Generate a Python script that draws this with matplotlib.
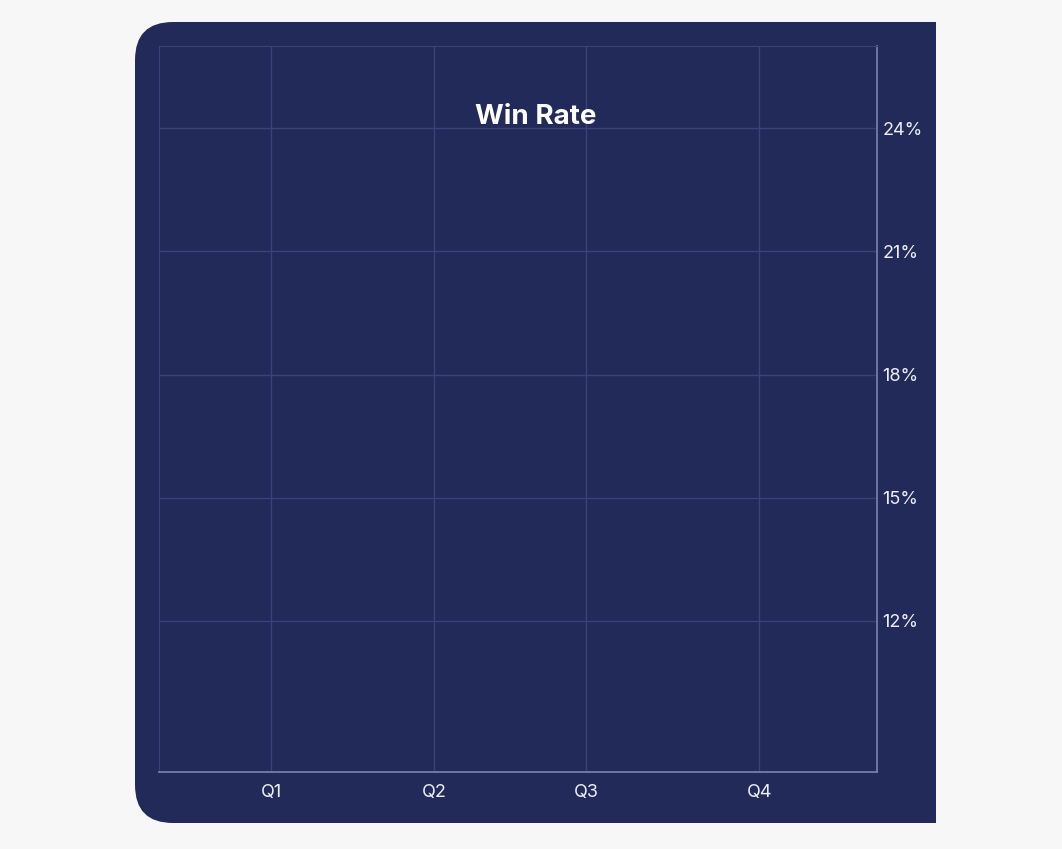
import matplotlib.pyplot as plt
from matplotlib.patches import FancyBboxPatch, Rectangle
from matplotlib.ticker import FuncFormatter

# data
quarters = ["Q1", "Q2", "Q3", "Q4"]
quarter_pos = [0.156, 0.383, 0.595, 0.836]
win_rate = []  # no points drawn in the reference
y_ticks = [12, 15, 18, 21, 24]

page_bg = "#f7f7f7"
panel_bg = "#222a5a"
grid_col = "#39427a"
spine_col = "#7d85ad"
text_col = "#eceef6"

W, H = 1062, 849
fig = plt.figure(figsize=(W / 100, H / 100), dpi=100)
fig.patch.set_facecolor(page_bg)
plt.rcParams['font.family'] = ['Inter', 'DejaVu Sans']

# panel with rounded left corners only
def fx(px):
    return px / W

def fy(py):
    return 1 - py / H

r = 38
panel = FancyBboxPatch((fx(135 + r), fy(823 - r)), fx(936 - 135 - 2 * r), (801 - 2 * r) / H,
                       boxstyle=f"round,pad={r / W}", transform=fig.transFigure,
                       facecolor=panel_bg, edgecolor="none", zorder=0,
                       mutation_aspect=W / H)
fig.patches.append(panel)
fig.patches.append(Rectangle((fx(880), fy(823)), fx(936 - 880), 801 / H,
                             transform=fig.transFigure, facecolor=panel_bg,
                             edgecolor="none", zorder=0))

ax = fig.add_axes([fx(159), fy(772), fx(877 - 159), (772 - 46) / H])
ax.set_zorder(2)
ax.set_facecolor("none")
ax.plot(quarter_pos[:len(win_rate)], win_rate, color="#6fa8ff")

ax.set_xlim(0, 1)
ax.set_ylim(8.32, 26.0)
ax.set_xticks(quarter_pos)
ax.set_xticklabels(quarters)
ax.set_yticks(y_ticks)
ax.yaxis.set_major_formatter(FuncFormatter(lambda v, p: f"{v:.0f}%"))
ax.yaxis.tick_right()

ax.tick_params(axis="x", length=0, pad=9, labelsize=13, labelcolor=text_col)
ax.tick_params(axis="y", length=0, pad=4, labelsize=13, labelcolor=text_col)
ax.grid(True, color=grid_col, linewidth=1)

for side in ["left", "top"]:
    ax.spines[side].set_color(grid_col)
for side in ["right", "bottom"]:
    ax.spines[side].set_color(spine_col)
    ax.spines[side].set_linewidth(1.2)

t = fig.text(fx(536), fy(117), "Win Rate", ha="center", va="center",
             fontsize=20, fontweight="bold", color="white")
t.set_zorder(3)

fig.savefig("out.png", dpi=100, facecolor=page_bg)
